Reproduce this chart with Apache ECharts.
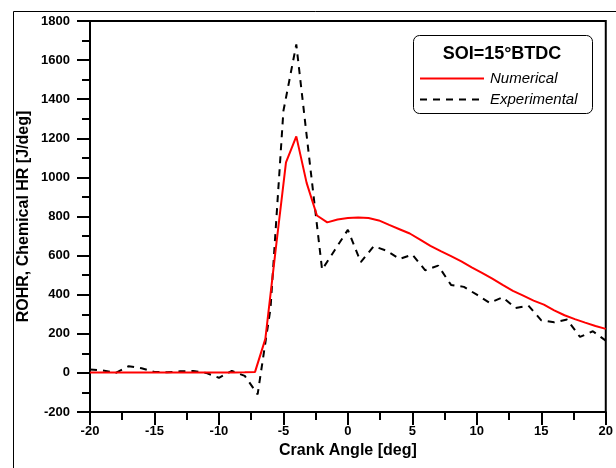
<!DOCTYPE html>
<html>
<head>
<meta charset="utf-8">
<script src="https://cdn.jsdelivr.net/npm/echarts@6/dist/echarts.min.js"></script>
<style>
  html, body { margin: 0; padding: 0; background: #fff; }
  #chart { width: 616px; height: 468px; }
</style>
</head>
<body>
<div id="chart"></div>
<script>
// numerical (red) - crank angle step 0.8 deg
var numAngle = [-20, -19.2, -18.4, -17.6, -16.8, -16, -15.2, -14.4, -13.6, -12.8, -12, -11.2, -10.4, -9.6, -8.8, -8, -7.2,
  -6.4, -5.6, -4.8, -4, -3.2, -2.4, -1.6, -0.8, 0, 0.8, 1.6, 2.4, 3.2, 4, 4.8, 5.6, 6.4, 7.2, 8, 8.8, 9.6,
  10.4, 11.2, 12, 12.8, 13.6, 14.4, 15.2, 16, 16.8, 17.6, 18.4, 19.2, 20];
var numValue = [2, 2, 2, 2, 2, 2, 2, 2, 2, 2, 2, 2, 2, 2, 2, 3, 5,
  174, 630, 1077, 1210, 972, 805, 770, 785, 792, 795, 792, 780, 757, 735, 713, 682, 650, 623, 597, 570, 540,
  512, 482, 450, 420, 395, 370, 349, 320, 295, 275, 257, 240, 225];

// experimental (black dashed) - step 1 deg
var expAngle = [-20, -19, -18, -17, -16, -15, -14, -13, -12, -11, -10, -9, -8, -7, -6, -5, -4, -3, -2, -1,
  0, 1, 2, 3, 4, 5, 6, 7, 8, 9, 10, 11, 12, 13, 14, 15, 16, 17, 18, 19, 20];
var expValue = [17, 12, 0, 34, 24, 5, 3, 8, 10, 0, -25, 10, -15, -110, 330, 1340, 1680, 1100, 528, 630,
  732, 566, 648, 625, 583, 605, 525, 549, 450, 440, 400, 358, 387, 332, 344, 269, 259, 273, 184, 213, 165];

var legendTitle = 'SOI=15°BTDC';

function pairs(xs, ys) {
  var out = [];
  xs.forEach(function (x, i) { out.push([x, ys[i]]); });
  return out;
}

var chart = echarts.init(document.getElementById('chart'));
var font = 'Arial, "Liberation Sans", sans-serif';

var option = {
  animation: false,
  backgroundColor: '#fff',
  grid: {
    left: 90, top: 21, width: 523, height: 391,
    show: true, borderColor: '#000', borderWidth: 2, backgroundColor: 'transparent'
  },
  legend: {
    orient: 'vertical',
    left: 419, top: 71, padding: 0,
    itemWidth: 64, itemHeight: 16, itemGap: 6,
    itemStyle: { opacity: 0 },
    textStyle: { fontFamily: font, fontStyle: 'italic', fontSize: 15, color: '#000', padding: [0, 0, 0, 1] },
    data: ['Numerical', 'Experimental']
  },
  xAxis: {
    type: 'value', min: -20, max: 20, interval: 5,
    name: 'Crank Angle [deg]', nameLocation: 'middle', nameGap: 30,
    nameTextStyle: { fontFamily: font, fontWeight: 'bold', fontSize: 16, color: '#000' },
    axisLine: { onZero: false, lineStyle: { color: '#000', width: 2 } },
    axisTick: { length: 13, lineStyle: { color: '#000', width: 2 } },
    minorTick: { show: true, splitNumber: 2, length: 8, lineStyle: { color: '#000', width: 2 } },
    axisLabel: { margin: 13, fontFamily: font, fontWeight: 'bold', fontSize: 13, color: '#000',
      formatter: function (v) { return String(v); } },
    splitLine: { show: false }
  },
  yAxis: {
    type: 'value', min: -200, max: 1800, interval: 200,
    name: 'ROHR, Chemical HR [J/deg]', nameLocation: 'middle', nameGap: 58, nameMoveOverlap: false,
    nameTextStyle: { fontFamily: font, fontWeight: 'bold', fontSize: 16, color: '#000' },
    axisLine: { onZero: false, lineStyle: { color: '#000', width: 2 } },
    axisTick: { length: 13, lineStyle: { color: '#000', width: 2 } },
    minorTick: { show: true, splitNumber: 2, length: 8, lineStyle: { color: '#000', width: 2 } },
    axisLabel: { margin: 20, fontFamily: font, fontWeight: 'bold', fontSize: 13, color: '#000',
      formatter: function (v) { return String(v); } },
    splitLine: { show: false }
  },
  graphic: [
    {
      type: 'rect', silent: true, z: -1,
      shape: { x: 13.5, y: 11.5, width: 700, height: 500 },
      style: { fill: 'none', stroke: '#000', lineWidth: 1 }
    },
    {
      type: 'rect', silent: true,
      shape: { x: 413.5, y: 35.5, width: 179, height: 78, r: 6 },
      style: { fill: '#fff', stroke: '#000', lineWidth: 1 },
      z: 0
    },
    {
      type: 'text', silent: true, z: 1,
      style: {
        x: 502, y: 54, text: legendTitle, align: 'center', verticalAlign: 'middle',
        font: 'bold 18px ' + font, fill: '#000'
      }
    }
  ],
  series: [
    {
      name: 'Numerical', type: 'line', data: pairs(numAngle, numValue),
      showSymbol: false, symbol: 'none',
      lineStyle: { color: '#ff0000', width: 2 }, itemStyle: { color: '#ff0000' }, z: 3
    },
    {
      name: 'Experimental', type: 'line', data: pairs(expAngle, expValue),
      showSymbol: false, symbol: 'none',
      lineStyle: { color: '#000', width: 2, type: [7, 6] }, itemStyle: { color: '#000' }, z: 2
    }
  ]
};

chart.setOption(option);
</script>
</body>
</html>
